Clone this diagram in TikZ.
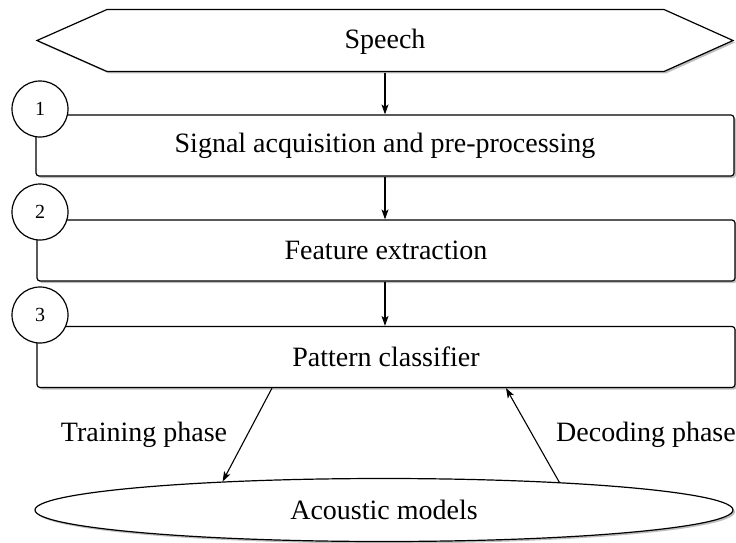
\documentclass[tikz,border=0pt]{standalone}
\usepackage{fontspec}
\setmainfont{Liberation Serif}
\usetikzlibrary{arrows.meta,shapes.geometric,shadows,calc}

\tikzset{
  shade/.style={drop shadow={shadow xshift=2pt,shadow yshift=-2pt,fill=black!25,opacity=1}},
  hexa/.style={draw=black,line width=1.2pt,fill=white,shade},
  stage/.style={draw=black,line width=1.2pt,fill=white,rounded corners=3pt,
    minimum width=698pt,minimum height=61pt,inner sep=0pt,shade,
    font=\fontsize{28}{30}\selectfont},
  num/.style={circle,draw=black,line width=1.2pt,fill=white,minimum size=56pt,
    inner sep=0pt,font=\fontsize{20}{22}\selectfont},
  model/.style={ellipse,draw=black,line width=1.2pt,fill=white,
    minimum width=698pt,minimum height=63pt,inner sep=0pt,shade,
    font=\fontsize{28}{30}\selectfont},
  lbl/.style={font=\fontsize{28}{30}\selectfont,inner sep=0pt},
  arr/.style={line width=1.1pt,-{Stealth[length=10pt,width=7pt,inset=2.5pt]}}
}

\begin{document}
\begin{tikzpicture}[x=1pt,y=-1pt]
  \useasboundingbox (0,0) rectangle (736,543);

  % Speech input: hexagonal banner
  \path[hexa] (37,40.5) -- (107,9.5) -- (664,9.5) -- (733,40.5)
              -- (664,71.5) -- (107,71.5) -- cycle;
  \node[lbl,minimum width=696pt,minimum height=62pt] (speech) at (385,41.5) {Speech};

  % Processing stages
  \node[stage] (s1) at (385,145.5) {Signal acquisition and pre-processing};
  \node[stage] (s2) at (386,250.5) {Feature extraction};
  \node[stage] (s3) at (386,357)   {Pattern classifier};

  % Stage numbers
  \node[num] (n1) at (40,109) {1};
  \node[num] (n2) at (40,212) {2};
  \node[num] (n3) at (40,315) {3};

  % Acoustic models
  \node[model] (am) at (384,510) {Acoustic models};

  % Flow between stages
  \draw[arr] (speech.south) -- (speech.south |- s1.north);
  \draw[arr] (s1.south -| speech.south) -- (speech.south |- s2.north);
  \draw[arr] (s2.south -| speech.south) -- (speech.south |- s3.north);

  % Training and decoding
  \draw[arr] ([xshift=-114pt]s3.south) -- (am.170);
  \draw[arr] (am.9) -- ([xshift=120pt]s3.south);

  \node[lbl] (train) at (144,435) {Training phase};
  \node[lbl] (decode) at (646,435) {Decoding phase};
\end{tikzpicture}
\end{document}
